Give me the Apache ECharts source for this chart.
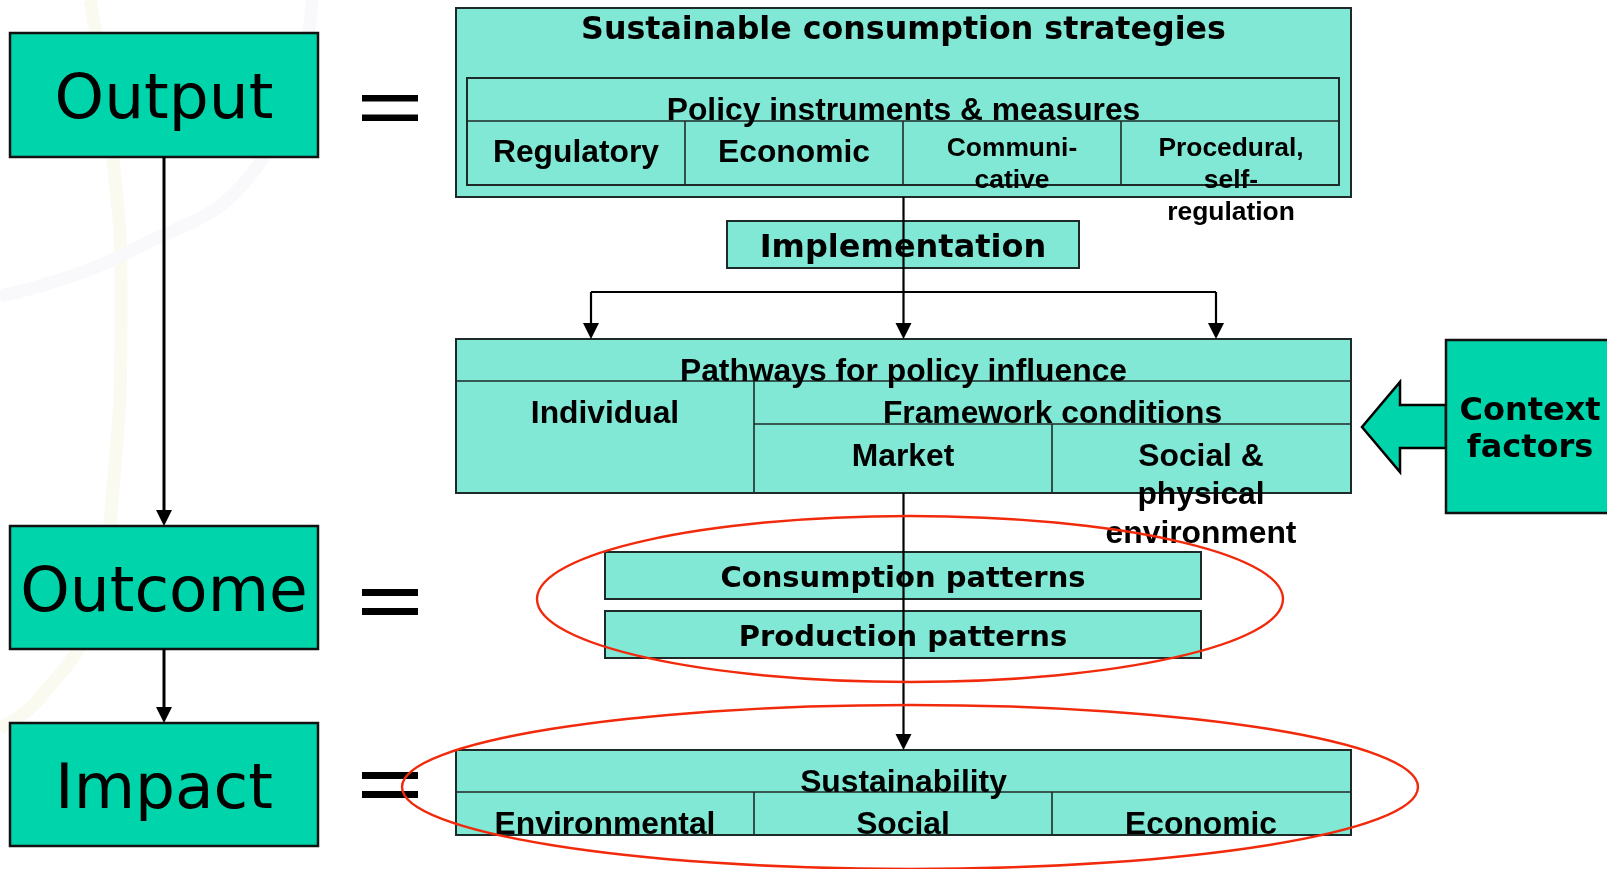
<!DOCTYPE html>
<html>
<head>
<meta charset="utf-8">
<title>Sustainable consumption strategies</title>
<style>
  html, body { margin: 0; padding: 0; background: #fff; }
  #chart { width: 1607px; height: 869px; }
</style>
<script src="https://cdn.jsdelivr.net/npm/echarts@6/dist/echarts.min.js"></script>
</head>
<body>
<div id="chart"></div>
<script>
// Boxes as [x0, y0, x1, y1] in diagram units (same as pixels of the slide)
const stageBoxes = [
  [10, 33, 318, 157],     // Output
  [10, 526, 318, 649],    // Outcome
  [10, 723, 318, 846],    // Impact
];
const contextBox = [[1446, 340, 1620, 513]];
const contextArrow = [[1446, 405], [1400, 405], [1400, 382], [1362, 427], [1400, 472], [1400, 448], [1446, 448]];

const blocks = [
  [456, 8, 1351, 197],    // strategies
  [467, 78, 1339, 185],   // instruments
  [727, 221, 1079, 268],  // implementation
  [456, 339, 1351, 493],  // pathways
  [605, 552, 1201, 599],  // consumption patterns
  [605, 611, 1201, 658],  // production patterns
  [456, 750, 1351, 835],  // sustainability
];
const dividers = [
  [467, 121, 1339, 121], [685, 121, 685, 185], [903, 121, 903, 185], [1121, 121, 1121, 185],
  [456, 381, 1351, 381], [754, 381, 754, 493], [754, 424, 1351, 424], [1052, 424, 1052, 493],
  [456, 792, 1351, 792], [754, 792, 754, 835], [1052, 792, 1052, 835],
];
const equalsBars = [
  [362, 95, 418, 101.5], [362, 114.5, 418, 121],
  [362, 589, 418, 596], [362, 608, 418, 615],
  [362, 772, 418, 779], [362, 791, 418, 798],
];

// connectors [x1, y1, x2, y2]
const stageArrows = [[164, 157, 164, 526], [164, 649, 164, 723]];
const flowLines = [[903.5, 197, 903.5, 292], [591, 292, 1216, 292]];
const flowArrows = [
  [591, 292, 591, 339], [903.5, 292, 903.5, 339], [1216, 292, 1216, 339],
  [903.5, 493, 903.5, 750],
];

// [cx, cy, rx, ry]
const highlights = [[910, 599, 373, 83], [910, 787, 508, 82]];

const backdropCurves = [
  [[90, 0], [112, 150], [121, 300], [112, 500], [93, 615], [40, 698], [0, 728]],
  [[312, 0], [262, 160], [133, 250], [0, 296]],
];

// labels [text, x, y of first line]
const stageLabels = [['Output', 164, 102], ['Outcome', 164, 595], ['Impact', 164, 792]];
const headLabels = [
  ['Sustainable consumption strategies', 903.5, 31],
  ['Implementation', 903, 249],
  ['Context\nfactors', 1530, 412],
];
const patternLabels = [['Consumption patterns', 903, 579], ['Production patterns', 903, 638]];
const cellLabels = [
  ['Policy instruments & measures', 903.5, 111],
  ['Regulatory', 576, 153],
  ['Economic', 794, 153],
  ['Pathways for policy influence', 903.5, 372],
  ['Individual', 605, 414],
  ['Framework conditions', 1052.5, 414],
  ['Market', 903, 457],
  ['Social &\nphysical\nenvironment', 1201, 457],
  ['Sustainability', 903.5, 783],
  ['Environmental', 605, 825],
  ['Social', 903, 825],
  ['Economic', 1201, 825],
];
const smallLabels = [['Communi-\ncative', 1012, 149], ['Procedural,\nself-\nregulation', 1231, 149]];

const DARK = '#00d4aa';
const LIGHT = '#80e8d4';

const rectSeries = (data, fill, stroke, lineWidth, z) => ({
  type: 'custom',
  z,
  clip: false,
  data,
  renderItem: (params, api) => {
    const p0 = api.coord([api.value(0), api.value(1)]);
    const p1 = api.coord([api.value(2), api.value(3)]);
    return {
      type: 'rect',
      shape: { x: p0[0], y: p0[1], width: p1[0] - p0[0], height: p1[1] - p0[1] },
      style: { fill, stroke, lineWidth },
    };
  },
});

const lineSeries = (data, width, head, color, z) => ({
  type: 'custom',
  z,
  clip: false,
  data,
  renderItem: (params, api) => {
    const a = api.coord([api.value(0), api.value(1)]);
    const b = api.coord([api.value(2), api.value(3)]);
    const dx = b[0] - a[0];
    const dy = b[1] - a[1];
    const len = Math.hypot(dx, dy);
    const ux = dx / len;
    const uy = dy / len;
    const children = [{
      type: 'line',
      shape: { x1: a[0], y1: a[1], x2: b[0] - ux * head, y2: b[1] - uy * head },
      style: { stroke: color, lineWidth: width },
    }];
    if (head) {
      const bx = b[0] - ux * head;
      const by = b[1] - uy * head;
      const w = head * 0.5;
      children.push({
        type: 'polygon',
        shape: { points: [[b[0], b[1]], [bx - uy * w, by + ux * w], [bx + uy * w, by - ux * w]] },
        style: { fill: color },
      });
    }
    return { type: 'group', children };
  },
});

const textSeries = (list, font, lineHeight, z) => ({
  type: 'custom',
  z,
  clip: false,
  data: list.map((d) => [d[1], d[2]]),
  renderItem: (params, api) => {
    const p = api.coord([api.value(0), api.value(1)]);
    return {
      type: 'text',
      style: {
        text: list[params.dataIndex][0],
        x: p[0],
        y: p[1] - lineHeight / 2,
        font,
        lineHeight,
        fill: '#000',
        align: 'center',
        verticalAlign: 'top',
      },
    };
  },
});

const chart = echarts.init(document.getElementById('chart'));

const option = {
  animation: false,
  grid: { left: 0, right: 0, top: 0, bottom: 0 },
  xAxis: { type: 'value', min: 0, max: 1607, show: false },
  yAxis: { type: 'value', min: 0, max: 869, inverse: true, show: false },
  series: [
    {
      type: 'custom',
      z: 1,
      clip: false,
      data: backdropCurves.map((c, i) => [i]),
      renderItem: (params, api) => {
        const pts = backdropCurves[params.dataIndex].map((p) => api.coord(p));
        return {
          type: 'polyline',
          shape: { points: pts, smooth: 0.5 },
          style: { stroke: params.dataIndex === 0 ? '#fafaf0' : '#f9f9fb', lineWidth: 13, fill: null },
        };
      },
    },
    {
      type: 'custom',
      z: 2,
      clip: false,
      data: [[0]],
      renderItem: (params, api) => ({
        type: 'polygon',
        shape: { points: contextArrow.map((p) => api.coord(p)) },
        style: { fill: DARK, stroke: '#000', lineWidth: 2.5 },
      }),
    },
    rectSeries(stageBoxes, DARK, '#111', 2.5, 3),
    rectSeries(contextBox, DARK, '#111', 2.5, 3),
    rectSeries(blocks, LIGHT, '#1e2a28', 2, 3),
    lineSeries(dividers, 1.6, 0, '#1e2a28', 4),
    rectSeries(equalsBars, '#000', null, 0, 4),
    lineSeries(stageArrows, 3, 16, '#000', 5),
    lineSeries(flowLines, 2.2, 0, '#000', 5),
    lineSeries(flowArrows, 2.2, 16, '#000', 5),
    textSeries(stageLabels, '63px "DejaVu Sans"', 70, 6),
    textSeries(headLabels.slice(0, 1), 'bold 31.7px "DejaVu Sans"', 37, 6),
    textSeries(headLabels.slice(1), 'bold 32px "DejaVu Sans"', 37, 6),
    textSeries(patternLabels, 'bold 29px "DejaVu Sans"', 34, 6),
    textSeries(cellLabels, 'bold 31.8px "Liberation Sans"', 38.5, 6),
    textSeries(smallLabels, 'bold 26.4px "Liberation Sans"', 32, 6),
    {
      type: 'custom',
      z: 7,
      clip: false,
      data: highlights,
      renderItem: (params, api) => {
        const c = api.coord([api.value(0), api.value(1)]);
        const e = api.coord([api.value(0) + api.value(2), api.value(1) + api.value(3)]);
        return {
          type: 'ellipse',
          shape: { cx: c[0], cy: c[1], rx: e[0] - c[0], ry: e[1] - c[1] },
          style: { fill: null, stroke: '#f22a0c', lineWidth: 2.4 },
        };
      },
    },
  ],
};

chart.setOption(option);

window.addEventListener('resize', function () {
  chart.resize();
});
</script>
</body>
</html>
